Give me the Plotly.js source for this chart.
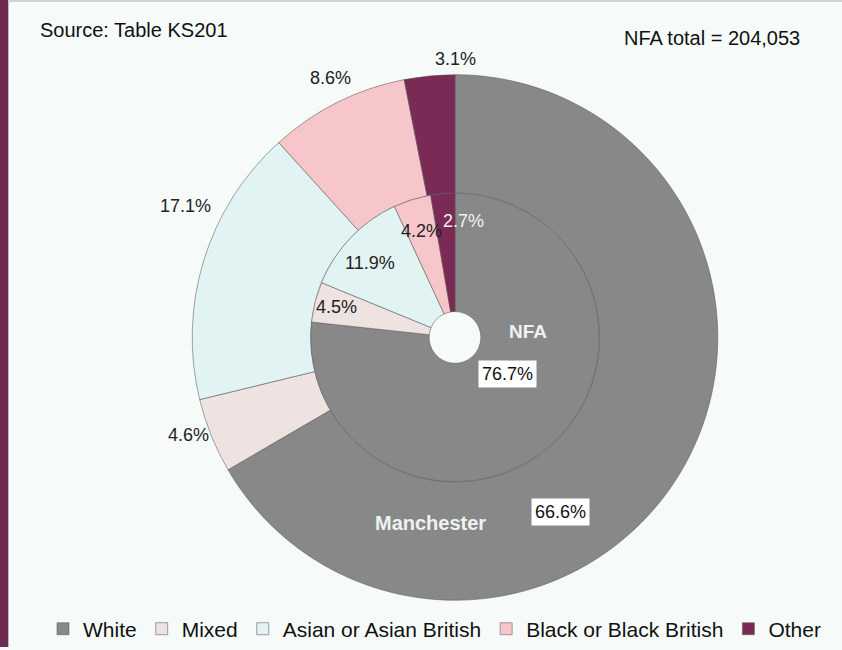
<!DOCTYPE html>
<html>
<head>
<meta charset="utf-8">
<script src="https://cdn.plot.ly/plotly-3.0.1.min.js"></script>
<style>html,body{margin:0;padding:0;background:#f6fbf9;}#chart{width:842px;height:650px;}</style>
</head>
<body>
<div id="chart"></div>
<script>
// ---- data ----
const categories = ["White", "Mixed", "Asian or Asian British", "Black or Black British", "Other"];
const manchesterValues = [66.6, 4.6, 17.1, 8.6, 3.1];
const nfaValues = [76.7, 4.5, 11.9, 4.2, 2.7];
const sourceNote = "Source: Table KS201";
const totalNote = "NFA total = 204,053";
const colors = ["#888888", "#eee3e0", "#e2f3f3", "#f7c6ca", "#7a2a55"];

const W = 842, H = 650;
const cx = 455, cy = 339, rOuter = 264, rMid = 145, rHole = 26;
function px(x) { return x / W; }
function py(y) { return 1 - y / H; }

const outer = {
  type: "pie", name: "Manchester",
  labels: categories, values: manchesterValues,
  sort: false, direction: "clockwise", rotation: 0,
  hole: rMid / rOuter,
  marker: { colors: colors, line: { color: "rgba(90,90,90,0.55)", width: 1 } },
  textinfo: "none", hoverinfo: "label+percent",
  domain: { x: [px(cx - rOuter), px(cx + rOuter)], y: [py(cy + rOuter), py(cy - rOuter)] },
  showlegend: true
};
const inner = {
  type: "pie", name: "NFA",
  labels: categories, values: nfaValues,
  sort: false, direction: "clockwise", rotation: 0,
  hole: rHole / rMid,
  marker: { colors: colors, line: { color: "rgba(90,90,90,0.55)", width: 1 } },
  textinfo: "none", hoverinfo: "label+percent",
  domain: { x: [px(cx - rMid), px(cx + rMid)], y: [py(cy + rMid), py(cy - rMid)] },
  showlegend: true
};

const fontFam = "Liberation Sans, Arial, sans-serif";
function pct(v) { return v.toFixed(1) + "%"; }
// label anchor positions (pixels) for each slice
const outerLabelPos = [[560, 514], [188, 437], [185, 207], [330, 78], [455, 59]];
const innerLabelPos = [[507, 376], [336, 308], [370, 264], [421, 232], [464, 222]];
const innerLabelColors = ["#111", "#222", "#222", "#222", "#f2f2f2"];

const annotations = [];
manchesterValues.forEach((v, i) => {
  const a = {
    xref: "paper", yref: "paper", x: px(outerLabelPos[i][0]), y: py(outerLabelPos[i][1]),
    text: pct(v), showarrow: false, font: { family: fontFam, size: 18, color: "#222" },
    xanchor: "center", yanchor: "middle"
  };
  if (i === 0) { a.bgcolor = "#ffffff"; a.borderpad = 3; a.font.color = "#111"; }
  annotations.push(a);
});
nfaValues.forEach((v, i) => {
  const a = {
    xref: "paper", yref: "paper", x: px(innerLabelPos[i][0]), y: py(innerLabelPos[i][1]),
    text: pct(v), showarrow: false, font: { family: fontFam, size: 18, color: innerLabelColors[i] },
    xanchor: "center", yanchor: "middle"
  };
  if (i === 0) { a.bgcolor = "#ffffff"; a.borderpad = 3; }
  annotations.push(a);
});
annotations.push({ xref: "paper", yref: "paper", x: px(430), y: py(525), text: "<b>Manchester</b>", showarrow: false,
  font: { family: fontFam, size: 20, color: "#eef2f3" }, xanchor: "center", yanchor: "middle" });
annotations.push({ xref: "paper", yref: "paper", x: px(528), y: py(333), text: "<b>NFA</b>", showarrow: false,
  font: { family: fontFam, size: 19, color: "#eef2f3" }, xanchor: "center", yanchor: "middle" });
annotations.push({ xref: "paper", yref: "paper", x: px(38), y: py(30), text: sourceNote, showarrow: false,
  font: { family: fontFam, size: 20, color: "#111" }, xanchor: "left", yanchor: "middle" });
annotations.push({ xref: "paper", yref: "paper", x: px(802), y: py(38), text: totalNote, showarrow: false,
  font: { family: fontFam, size: 20, color: "#111" }, xanchor: "right", yanchor: "middle" });

const layout = {
  width: W, height: H,
  margin: { l: 0, r: 0, t: 0, b: 0 },
  paper_bgcolor: "#f6fbf9", plot_bgcolor: "#f6fbf9",
  showlegend: true,
  legend: {
    orientation: "h", x: px(43), xanchor: "left", y: py(632), yanchor: "middle",
    font: { family: fontFam, size: 21, color: "#111" }, bgcolor: "rgba(0,0,0,0)",
    itemwidth: 30, tracegroupgap: 0
  },
  annotations: annotations,
  shapes: [
    { type: "rect", xref: "paper", yref: "paper", x0: 0, x1: px(8), y0: 0, y1: 1, fillcolor: "#6d2b4f", line: { width: 0 } },
    { type: "rect", xref: "paper", yref: "paper", x0: px(8), x1: px(9), y0: 0, y1: 1, fillcolor: "#b9b9b9", line: { width: 0 } },
    { type: "rect", xref: "paper", yref: "paper", x0: px(8), x1: 1, y0: py(2), y1: 1, fillcolor: "#cfd3d1", line: { width: 0 } }
  ]
};

Plotly.newPlot("chart", [outer, inner], layout, { displayModeBar: false, staticPlot: true });
</script>
</body>
</html>
